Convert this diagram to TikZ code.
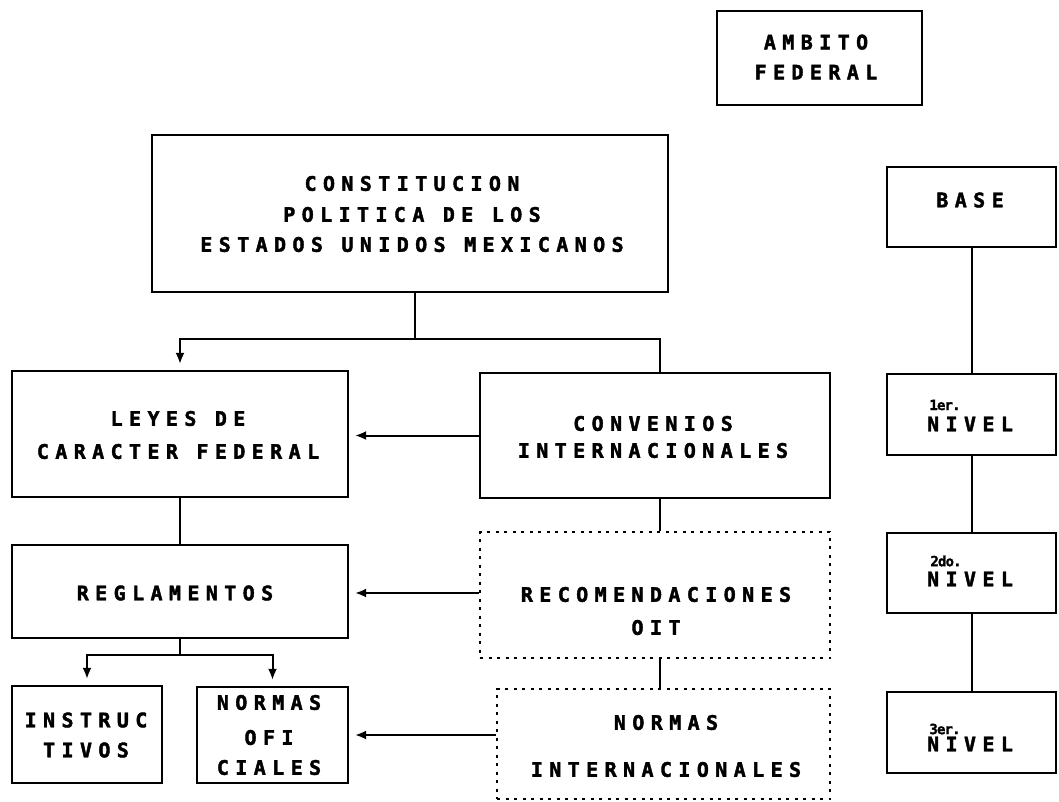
\documentclass[tikz,border=0pt]{standalone}
\usepackage{fontspec}
\newfontfamily\boxfont{DejaVu Sans Mono Bold}[LetterSpace=32, FakeBold=2]
\newfontfamily\supfont{DejaVu Sans Mono Bold}[LetterSpace=-6, FakeBold=1.5]
\usetikzlibrary{arrows.meta,calc}

\tikzset{
  box/.style={draw, line width=2.3pt, inner sep=0pt, anchor=center},
  dbox/.style={box, line width=2pt, dash pattern=on 3pt off 5.5pt},
  lbl/.style={inner sep=0pt, align=center,
    font=\boxfont\fontsize{20}{31}\selectfont},
  suplbl/.style={inner sep=0pt,
    font=\supfont\fontsize{14}{14}\selectfont},
  link/.style={line width=2pt},
  arr/.style={link, -{Latex[length=11pt,width=9pt]}, shorten >=6pt},
}

% box at centre (cx,cy) with width w and height h
\newcommand{\boxat}[6][box]{%
  \node[#1, minimum width=#5pt, minimum height=#6pt] (#2) at (#3,#4) {};}

\begin{document}
\begin{tikzpicture}[x=1pt,y=-1pt]
\useasboundingbox (0,0) rectangle (1059,802);

% ---- boxes ----
\boxat{ambito}{819.5}{58}{205}{94}
\boxat{const}{410}{213.5}{516}{157}
\boxat{leyes}{180}{434}{336}{126}
\boxat{conv}{655}{435.5}{350}{125}
\boxat{regl}{180}{591.5}{336}{93}
\boxat[dbox]{rec}{655}{595}{350}{126}
\boxat{instr}{87}{734.5}{150}{97}
\boxat{nofi}{272.5}{735}{151}{96}
\boxat[dbox]{nint}{663.5}{744}{333}{110}
\boxat{base}{971.5}{207}{169}{80}
\boxat{n1}{971.5}{414.5}{169}{81}
\boxat{n2}{971.5}{573}{169}{80}
\boxat{n3}{971.5}{732.5}{169}{81}

% ---- texts ----
\node[lbl] (t-ambito) at (816,57) {AMBITO\\[-1pt]FEDERAL};
\node[lbl] (t-const) at (412,214) {CONSTITUCION\\POLITICA DE LOS\\[-1pt]ESTADOS UNIDOS MEXICANOS};
\node[lbl] (t-leyes) at (178,435) {LEYES DE\\[2pt]CARACTER FEDERAL};
\node[lbl] (t-conv) at (653,437) {CONVENIOS\\[-4pt]INTERNACIONALES};
\node[lbl] (t-regl) at (175,593) {REGLAMENTOS};
\node[lbl] (t-rec) at (656,611) {RECOMENDACIONES\\[2pt]OIT};
\node[lbl] (t-nint) at (666,746) {NORMAS\\[16pt]INTERNACIONALES};
\node[lbl] (t-instr) at (86,735) {INSTRUC\\[-1pt]TIVOS};
\node[lbl] (t-nofi) at (269,735) {NORMAS\\[4pt]OFI\\[-1pt]CIALES};
\node[lbl] (t-base) at (970,200) {BASE};
\node[lbl] (t-n1) at (970,424) {NIVEL};
\node[lbl] (t-n2) at (970,579) {NIVEL};
\node[lbl] (t-n3) at (970,744) {NIVEL};
\node[suplbl] (s-n1) at (945,405) {1er.};
\node[suplbl] (s-n2) at (946,561) {2do.};
\node[suplbl] (s-n3) at (945,729) {3er.};

% ---- connectors ----
\coordinate (split) at (415,339);
\draw[link] (const.south -| split) -- (split);
\draw[arr] (split) -| (leyes.north);
\draw[link] (split) -| ($(conv.north)+(5,0)$);
\draw[arr] (conv.west) -- (conv.west -| leyes.east);
\draw[link] (leyes.south) -- (regl.north);
\draw[link] ($(conv.south)+(5,0)$) -- ($(rec.north)+(5,0)$);
\draw[arr] ($(rec.west)+(0,-2)$) -- ($(rec.west -| regl.east)+(0,-2)$);
\draw[link] ($(rec.south)+(5,0)$) -- ($(nint.north)+(-3.5,0)$);
\draw[arr] (nofi.east -| nint.west) -- (nofi.east);
\coordinate (fork) at (180,655);
\draw[link] (regl.south) -- (fork);
\draw[arr] (fork) -| (instr.north);
\draw[arr] (fork) -| (nofi.north);
\draw[link] (base) -- (n1);
\draw[link] (n1) -- (n2);
\draw[link] (n2) -- (n3);
\end{tikzpicture}
\end{document}
